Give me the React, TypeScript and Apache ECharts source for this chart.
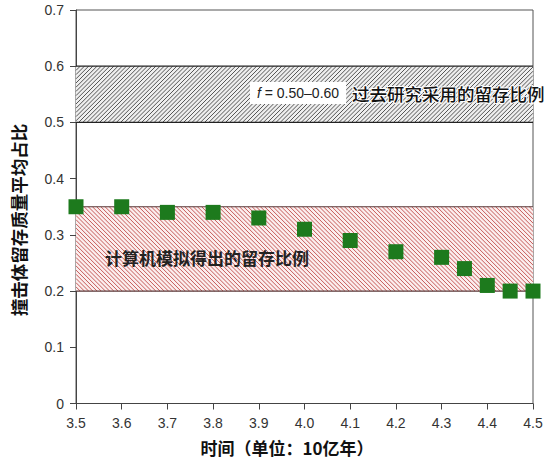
import React, { useEffect, useRef } from "react";
import * as echarts from "echarts";

const years = [3.5, 3.6, 3.7, 3.8, 3.9, 4.0, 4.1, 4.2, 4.3, 4.35, 4.4, 4.45, 4.5];
const retention = [0.35, 0.35, 0.34, 0.34, 0.33, 0.31, 0.29, 0.27, 0.26, 0.24, 0.21, 0.2, 0.2];
const xRange = [3.5, 4.5];
const yRange = [0, 0.7];
const previousBand = [0.5, 0.6];
const simulatedBand = [0.2, 0.35];
const previousLabel = "过去研究采用的留存比例";
const previousRange = "0.50–0.60";
const simulatedLabel = "计算机模拟得出的留存比例";
const xTitle = "时间（单位：10亿年）";
const yTitle = "撞击体留存质量平均占比";

const SANS = "'Liberation Sans', Arial, 'Noto Sans CJK SC', sans-serif";
const CJK = "'Noto Sans CJK SC', 'Liberation Sans', sans-serif";

export default function App() {
  const ref = useRef<HTMLDivElement>(null);
  useEffect(() => {
    if (!ref.current) return;
    const chart = echarts.init(ref.current, null, { renderer: "svg" });
    const step = 4.2;
    const renderItem = (params: any, api: any) => {
      const isPrev = params.dataIndex === 0;
      const p0 = api.coord([api.value(0), api.value(3)]);
      const p1 = api.coord([api.value(1), api.value(2)]);
      const left = p0[0], top = p0[1], right = p1[0], bottom = p1[1];
      const hatchColor = isPrev ? "#555555" : "#c55a58";
      const borderColor = isPrev ? "#222222" : "#5a3838";
      const children: any[] = [
        { type: "rect", shape: { x: left, y: top, width: right - left, height: bottom - top }, style: { fill: isPrev ? "#eeeeee" : "#fbeeee", stroke: null } },
      ];
      if (isPrev) {
        for (let c = left + top; c <= right + bottom; c += step) {
          const xa = Math.max(left, c - bottom);
          const xb = Math.min(right, c - top);
          if (xa < xb) {
            children.push({ type: "line", shape: { x1: xa, y1: c - xa, x2: xb, y2: c - xb }, style: { stroke: hatchColor, lineWidth: 1 } });
          }
        }
      } else {
        for (let c = left - bottom; c <= right - top; c += step) {
          const xa = Math.max(left, c + top);
          const xb = Math.min(right, c + bottom);
          if (xa < xb) {
            children.push({ type: "line", shape: { x1: xa, y1: xa - c, x2: xb, y2: xb - c }, style: { stroke: hatchColor, lineWidth: 1 } });
          }
        }
      }
      children.push({ type: "line", shape: { x1: left, y1: top, x2: right, y2: top }, style: { stroke: borderColor, lineWidth: 1.2 } });
      children.push({ type: "line", shape: { x1: left, y1: bottom, x2: right, y2: bottom }, style: { stroke: borderColor, lineWidth: 1.2 } });
      return { type: "group", children };
    };

    chart.setOption({
      animation: false,
      backgroundColor: "#fff",
      grid: { left: 76, right: 22, top: 10, bottom: 54.5, show: true, borderColor: "#555", borderWidth: 1, backgroundColor: "transparent" },
      xAxis: {
        type: "value",
        min: xRange[0],
        max: xRange[1],
        interval: 0.1,
        splitLine: { show: false },
        axisLine: { show: true, lineStyle: { color: "#444", width: 1 } },
        axisTick: { show: true, length: 6, lineStyle: { color: "#444" } },
        axisLabel: { color: "#333", fontSize: 14, fontFamily: SANS, margin: 12, formatter: (v: number) => v.toFixed(1) },
      },
      yAxis: {
        type: "value",
        min: yRange[0],
        max: yRange[1],
        interval: 0.1,
        splitLine: { show: false },
        axisLine: { show: true, lineStyle: { color: "#444", width: 1 } },
        axisTick: { show: true, length: 6, lineStyle: { color: "#444" } },
        axisLabel: { color: "#333", fontSize: 14, fontFamily: SANS, margin: 12, formatter: (v: number) => (v === 0 ? "0" : v.toFixed(1)) },
      },
      series: [
        {
          type: "custom",
          renderItem,
          silent: true,
          z: 1,
          data: [
            [xRange[0], xRange[1], previousBand[0], previousBand[1]],
            [xRange[0], xRange[1], simulatedBand[0], simulatedBand[1]],
          ],
        },
        {
          type: "scatter",
          symbol: "rect",
          symbolSize: 15,
          clip: false,
          z: 5,
          itemStyle: { color: "#1d7a1d", opacity: 1 },
          data: years.map((x, i) => [x, retention[i]]),
        },
      ],
      graphic: [
        {
          type: "text",
          left: 250,
          top: 82,
          z: 10,
          style: {
            text: "{i|f} = " + previousRange,
            fontSize: 14,
            fontFamily: SANS,
            fill: "#222",
            backgroundColor: "#fff",
            padding: [4, 7, 4, 7],
            rich: { i: { fontStyle: "italic", fontSize: 14, fontFamily: SANS, fill: "#222" } },
          },
        },
        {
          type: "text",
          x: 352,
          y: 93,
          z: 10,
          style: {
            text: previousLabel,
            fontSize: 17.5,
            fontFamily: CJK,
            fontWeight: 500,
            fill: "#111",
            textAlign: "left",
            textVerticalAlign: "middle",
            stroke: "#fff",
            lineWidth: 2,
          },
        },
        {
          type: "text",
          x: 105,
          y: 257,
          z: 10,
          style: {
            text: simulatedLabel,
            fontSize: 17,
            fontFamily: CJK,
            fontWeight: "bold",
            fill: "#222",
            textAlign: "left",
            textVerticalAlign: "middle",
          },
        },
        {
          type: "text",
          x: 287,
          y: 447,
          z: 10,
          style: {
            text: xTitle,
            fontSize: 17,
            fontFamily: CJK,
            fontWeight: "bold",
            fill: "#111",
            textAlign: "center",
            textVerticalAlign: "middle",
          },
        },
        {
          type: "text",
          x: 18,
          y: 220,
          rotation: Math.PI / 2,
          z: 10,
          style: {
            text: yTitle,
            fontSize: 17.5,
            fontFamily: CJK,
            fontWeight: "bold",
            fill: "#111",
            textAlign: "center",
            textVerticalAlign: "middle",
          },
        },
      ],
    });
    return () => chart.dispose();
  }, []);
  return <div ref={ref} style={{ position: "fixed", left: 0, top: 0, width: 555, height: 458 }} />;
}
